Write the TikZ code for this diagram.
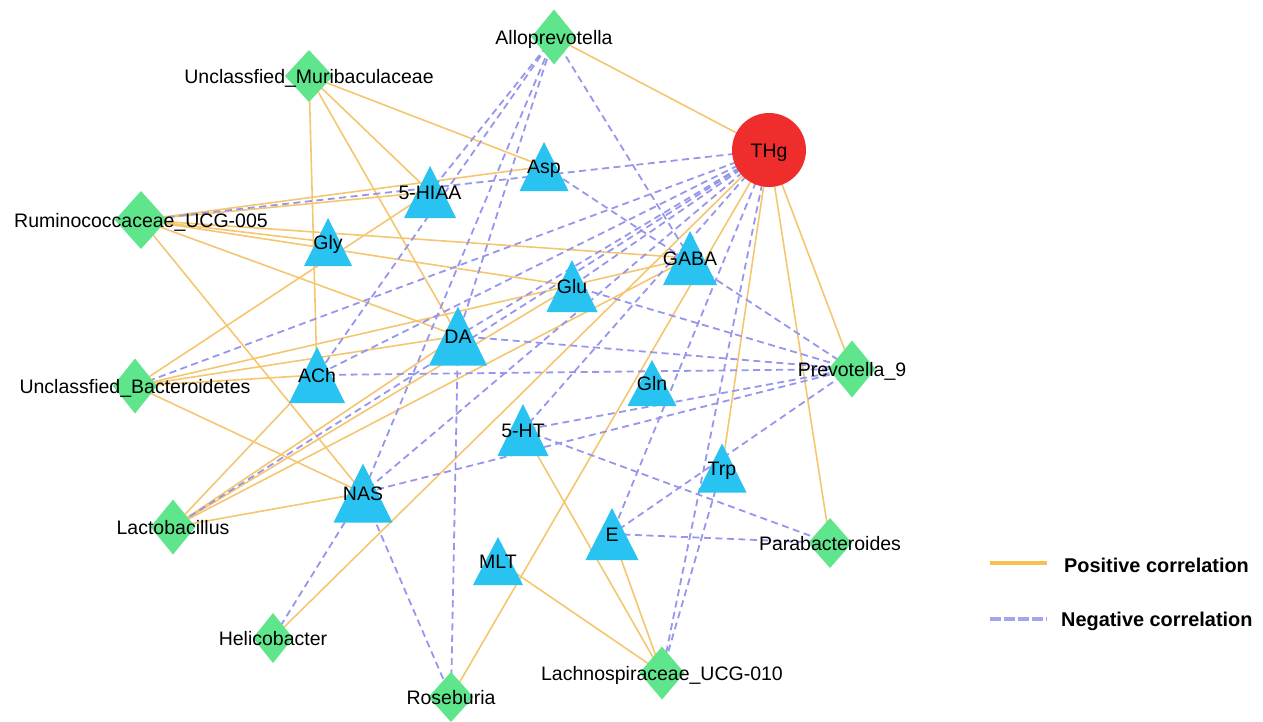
\documentclass[tikz,border=0pt]{standalone}
\usepackage{fontspec}
\setmainfont{Liberation Sans}
\usetikzlibrary{backgrounds}
\definecolor{posc}{RGB}{245,198,112}
\definecolor{negc}{RGB}{150,150,236}
\definecolor{posleg}{RGB}{249,192,80}
\definecolor{negleg}{RGB}{165,165,238}
\definecolor{diag}{RGB}{95,230,140}
\definecolor{trib}{RGB}{40,195,240}
\definecolor{thgr}{RGB}{240,45,45}
\tikzset{
  posline/.style={draw=posc, line width=1.6pt},
  negline/.style={draw=negc, line width=1.8pt, dash pattern=on 7pt off 4.5pt},
  lbl/.style={inner sep=0pt, text height=14pt, text depth=0pt, font=\fontsize{19.5}{22}\selectfont, text=black},
  trishape/.style={fill=trib},
  diashape/.style={fill=diag},
  legtext/.style={inner sep=0pt, anchor=west, text height=14pt, text depth=0pt, font=\fontsize{19.9}{22}\selectfont\bfseries},
}
\newcommand{\mytri}[6]{%
  \fill[trishape] ({#2-#4/2},{#3+#5/2}) -- ({#2+#4/2},{#3+#5/2}) -- (#2,{#3-#5/2}) -- cycle;
  \node[lbl] (#1) at (#2,#3) {#6};}
\newcommand{\mydia}[6]{%
  \fill[diashape] (#2,{#3-#5/2}) -- ({#2+#4/2},#3) -- (#2,{#3+#5/2}) -- ({#2-#4/2},#3) -- cycle;
  \node[lbl] (#1) at (#2,#3) {#6};}
\begin{document}
\begin{tikzpicture}[x=1pt,y=-1pt]
\useasboundingbox (0,0) rectangle (1263,721);
% THg
\node[circle, fill=thgr, minimum size=74pt, inner sep=0pt, text height=14pt, text depth=0pt, font=\fontsize{19.5}{22}\selectfont] (THg) at (769,150) {THg};
% diamonds (bacteria)
\mydia{Allo}{554}{37}{45}{55}{Alloprevotella}
\mydia{Muri}{309}{76}{48}{52}{Unclassfied\_Muribaculaceae}
\mydia{Rum}{141}{220}{52}{58}{Ruminococcaceae\_UCG-005}
\mydia{Bact}{135}{386}{44}{55}{Unclassfied\_Bacteroidetes}
\mydia{Lacto}{173}{527}{45}{55}{Lactobacillus}
\mydia{Heli}{273}{638}{40}{50}{Helicobacter}
\mydia{Rose}{451}{697}{45}{50}{Roseburia}
\mydia{Lach}{662}{673}{45}{53}{Lachnospiraceae\_UCG-010}
\mydia{Para}{830}{543}{44}{50}{Parabacteroides}
\mydia{Prev}{852}{369}{47}{57}{Prevotella\_9}
% triangles (metabolites)
\mytri{Asp}{544}{166.5}{49}{49}{Asp}
\mytri{HIAA}{430}{192}{52}{52}{5-HIAA}
\mytri{Gly}{328}{242}{48}{48}{Gly}
\mytri{GABA}{690}{258}{54}{54}{GABA}
\mytri{Glu}{572}{286}{51}{52}{Glu}
\mytri{DA}{458}{336}{58}{59}{DA}
\mytri{ACh}{317}{375}{56}{56}{ACh}
\mytri{Gln}{652}{383}{49}{46}{Gln}
\mytri{HT}{523}{430}{51}{52}{5-HT}
\mytri{Trp}{722}{468}{49}{49}{Trp}
\mytri{NAS}{363}{493}{59}{59}{NAS}
\mytri{E}{612}{534}{53}{52}{E}
\mytri{MLT}{498}{561}{50}{48}{MLT}
% edges
\begin{pgfonlayer}{background}
\foreach \a/\b in {Allo/THg, Muri/Asp, Muri/HIAA, Muri/DA, Muri/ACh, Rum/HIAA, Rum/Asp, Rum/Gly, Rum/GABA, Rum/Glu, Rum/DA, Rum/NAS, Bact/HIAA, Bact/GABA, Bact/DA, Bact/ACh, Bact/NAS, Lacto/ACh, Lacto/NAS, Lacto/DA, Lacto/Glu, Lacto/GABA, Heli/THg, Rose/THg, MLT/Lach, HT/Lach, E/Lach, THg/Trp, THg/Para, THg/Prev}
  \draw[posline] (\a.center) -- (\b.center);
\foreach \a/\b in {THg/Rum, THg/Bact, THg/ACh, THg/Lacto, THg/DA, THg/Glu, THg/NAS, THg/HT, THg/E, THg/Lach, Allo/GABA, Allo/NAS, Allo/DA, Allo/ACh, Allo/HIAA, Asp/Prev, Prev/DA, Prev/ACh, Prev/HT, Prev/NAS, Prev/E, Prev/Glu, HT/Para, E/Para, Trp/Lach, DA/Rose, NAS/Rose, NAS/Heli}
  \draw[negline] (\a.center) -- (\b.center);
\end{pgfonlayer}
% legend
\coordinate (lp1) at (990,563);
\coordinate (lp2) at (1047,563);
\coordinate (ln1) at (990,619);
\coordinate (ln2) at (1047,619);
\draw[draw=posleg, line width=4.5pt] (lp1) -- (lp2);
\draw[draw=negleg, line width=4.5pt, dash pattern=on 11pt off 3pt] (ln1) -- (ln2);
\node[legtext] (lpt) at (1064,565) {Positive correlation};
\node[legtext] (lnt) at (1061,619) {Negative correlation};
\end{tikzpicture}
\end{document}
